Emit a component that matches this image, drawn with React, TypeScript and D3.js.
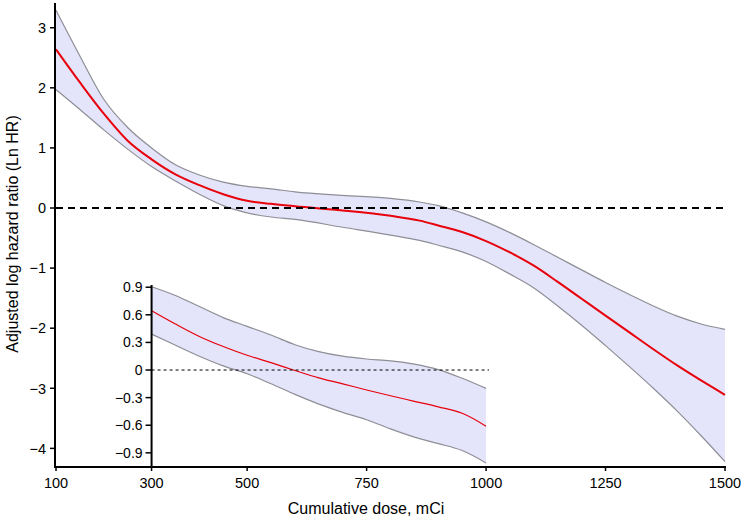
import { useEffect, useRef } from 'react';
import * as d3 from 'd3';

// Main curve (dose in mCi, adjusted log HR)
const DOSE = [100, 150, 200, 250, 300, 350, 400, 450, 500, 550, 600, 700, 800, 861, 900, 950, 1000, 1050, 1100, 1150, 1200, 1250, 1300, 1350, 1400, 1450, 1500];
const FIT = [2.64, 2.09, 1.57, 1.12, 0.81, 0.56, 0.38, 0.23, 0.12, 0.07, 0.03, -0.04, -0.13, -0.21, -0.29, -0.40, -0.55, -0.74, -0.96, -1.23, -1.51, -1.79, -2.07, -2.35, -2.62, -2.87, -3.11];
const UPPER = [3.29, 2.53, 1.81, 1.34, 1.00, 0.72, 0.55, 0.43, 0.36, 0.32, 0.27, 0.21, 0.16, 0.10, 0.04, -0.08, -0.23, -0.41, -0.61, -0.82, -1.03, -1.24, -1.44, -1.63, -1.80, -1.93, -2.02];
const LOWER = [1.97, 1.64, 1.30, 0.98, 0.69, 0.45, 0.23, 0.04, -0.08, -0.15, -0.19, -0.32, -0.45, -0.54, -0.62, -0.73, -0.89, -1.10, -1.33, -1.63, -1.95, -2.29, -2.64, -3.00, -3.38, -3.79, -4.22];

// Inset (300 - 1000 mCi)
const INSET_DOSE = [300, 350, 400, 450, 500, 550, 600, 650, 700, 750, 800, 850, 900, 950, 1000];
const INSET_FIT = [0.645, 0.50, 0.365, 0.255, 0.16, 0.08, -0.005, -0.085, -0.15, -0.217, -0.28, -0.34, -0.40, -0.47, -0.61];
const INSET_UPPER = [0.905, 0.81, 0.69, 0.57, 0.475, 0.38, 0.275, 0.20, 0.15, 0.12, 0.10, 0.065, 0.005, -0.09, -0.20];
const INSET_LOWER = [0.39, 0.27, 0.15, 0.045, -0.04, -0.15, -0.265, -0.37, -0.46, -0.54, -0.64, -0.73, -0.80, -0.875, -1.01];

const X_TICKS = [100, 300, 500, 750, 1000, 1250, 1500];
const Y_TICKS = [3, 2, 1, 0, -1, -2, -3, -4];
const INSET_Y_TICKS = [0.9, 0.6, 0.3, 0, -0.3, -0.6, -0.9];

const FONT = '"Liberation Sans", Arial, sans-serif';
const BAND_FILL = '#e4e4fa';
const BAND_EDGE = '#8e8e96';
const RED = '#e8000b';

const fmt = (d: number) => (d < 0 ? '\u2212' + String(Math.abs(d)) : String(d));

export default function App() {
  const svgRef = useRef<SVGSVGElement>(null);

  useEffect(() => {
    if (!svgRef.current) return;
    const svg = d3.select(svgRef.current);
    svg.selectAll('*').remove();

    const x = d3.scaleLinear().domain([100, 1500]).range([56, 725]);
    const y = d3.scaleLinear().domain([-4.31, 3.42]).range([467, 2.5]);
    const yIn = d3.scaleLinear().domain([-1.054, 0.924]).range([467, 285]);

    const drawBand = (
      xs: number[], lo: number[], hi: number[], fit: number[],
      ys: d3.ScaleLinear<number, number>, redWidth: number
    ) => {
      const idx = xs.map((_, i) => i);
      const area = d3.area<number>()
        .x(i => x(xs[i]))
        .y0(i => ys(lo[i]))
        .y1(i => ys(hi[i]))
        .curve(d3.curveMonotoneX);
      svg.append('path').attr('d', area(idx)).attr('fill', BAND_FILL);

      [lo, hi].forEach(arr => {
        const line = d3.line<number>().x(i => x(xs[i])).y(i => ys(arr[i])).curve(d3.curveMonotoneX);
        svg.append('path').attr('d', line(idx))
          .attr('fill', 'none').attr('stroke', BAND_EDGE).attr('stroke-width', 1.2);
      });

      const fitLine = d3.line<number>().x(i => x(xs[i])).y(i => ys(fit[i])).curve(d3.curveMonotoneX);
      svg.append('path').attr('d', fitLine(idx))
        .attr('fill', 'none').attr('stroke', RED).attr('stroke-width', redWidth);
    };

    // Main band
    drawBand(DOSE, LOWER, UPPER, FIT, y, 2);

    // Reference line at 0
    svg.append('line')
      .attr('x1', 56).attr('x2', 725)
      .attr('y1', y(0)).attr('y2', y(0))
      .attr('stroke', '#000').attr('stroke-width', 2)
      .attr('stroke-dasharray', '7,5');

    // Inset band
    drawBand(INSET_DOSE, INSET_LOWER, INSET_UPPER, INSET_FIT, yIn, 1.2);

    svg.append('line')
      .attr('x1', x(300)).attr('x2', 489)
      .attr('y1', yIn(0)).attr('y2', yIn(0))
      .attr('stroke', '#000').attr('stroke-width', 1)
      .attr('stroke-dasharray', '3,3');

    // Axes
    const axisColor = '#000';
    svg.append('line').attr('x1', 55).attr('x2', 55).attr('y1', 3).attr('y2', 468)
      .attr('stroke', axisColor).attr('stroke-width', 2);
    svg.append('line').attr('x1', 54).attr('x2', 726).attr('y1', 467).attr('y2', 467)
      .attr('stroke', axisColor).attr('stroke-width', 2);
    svg.append('line').attr('x1', x(300)).attr('x2', x(300)).attr('y1', 285).attr('y2', 467)
      .attr('stroke', axisColor).attr('stroke-width', 2);

    // Main y ticks
    Y_TICKS.forEach(t => {
      svg.append('line').attr('x1', 50).attr('x2', 55).attr('y1', y(t)).attr('y2', y(t))
        .attr('stroke', axisColor).attr('stroke-width', 1.5);
      svg.append('text').attr('x', 46).attr('y', y(t)).attr('dy', '0.36em')
        .attr('text-anchor', 'end').attr('font-family', FONT).attr('font-size', 14.5)
        .attr('fill', '#000').text(fmt(t));
    });

    // Inset y ticks
    INSET_Y_TICKS.forEach(t => {
      svg.append('line').attr('x1', x(300) - 6).attr('x2', x(300)).attr('y1', yIn(t)).attr('y2', yIn(t))
        .attr('stroke', axisColor).attr('stroke-width', 1.5);
      svg.append('text').attr('x', x(300) - 9).attr('y', yIn(t)).attr('dy', '0.36em')
        .attr('text-anchor', 'end').attr('font-family', FONT).attr('font-size', 14)
        .attr('fill', '#000').text(fmt(t));
    });

    // x ticks
    X_TICKS.forEach(t => {
      svg.append('line').attr('x1', x(t)).attr('x2', x(t)).attr('y1', 467).attr('y2', 471)
        .attr('stroke', axisColor).attr('stroke-width', 1.5);
      svg.append('text').attr('x', x(t)).attr('y', 487.5)
        .attr('text-anchor', 'middle').attr('font-family', FONT).attr('font-size', 14.5)
        .attr('fill', '#000').text(String(t));
    });

    // Axis titles
    svg.append('text').attr('x', 366).attr('y', 514)
      .attr('text-anchor', 'middle').attr('font-family', FONT).attr('font-size', 16)
      .attr('fill', '#000').text('Cumulative dose, mCi');

    svg.append('text')
      .attr('transform', 'translate(18, 234) rotate(-90)')
      .attr('text-anchor', 'middle').attr('font-family', FONT).attr('font-size', 16)
      .attr('fill', '#000').text('Adjusted log hazard ratio (Ln HR)');
  }, []);

  return (
    <svg
      ref={svgRef}
      width={743}
      height={519}
      style={{ position: 'absolute', left: 0, top: 0, background: '#fff' }}
    />
  );
}
